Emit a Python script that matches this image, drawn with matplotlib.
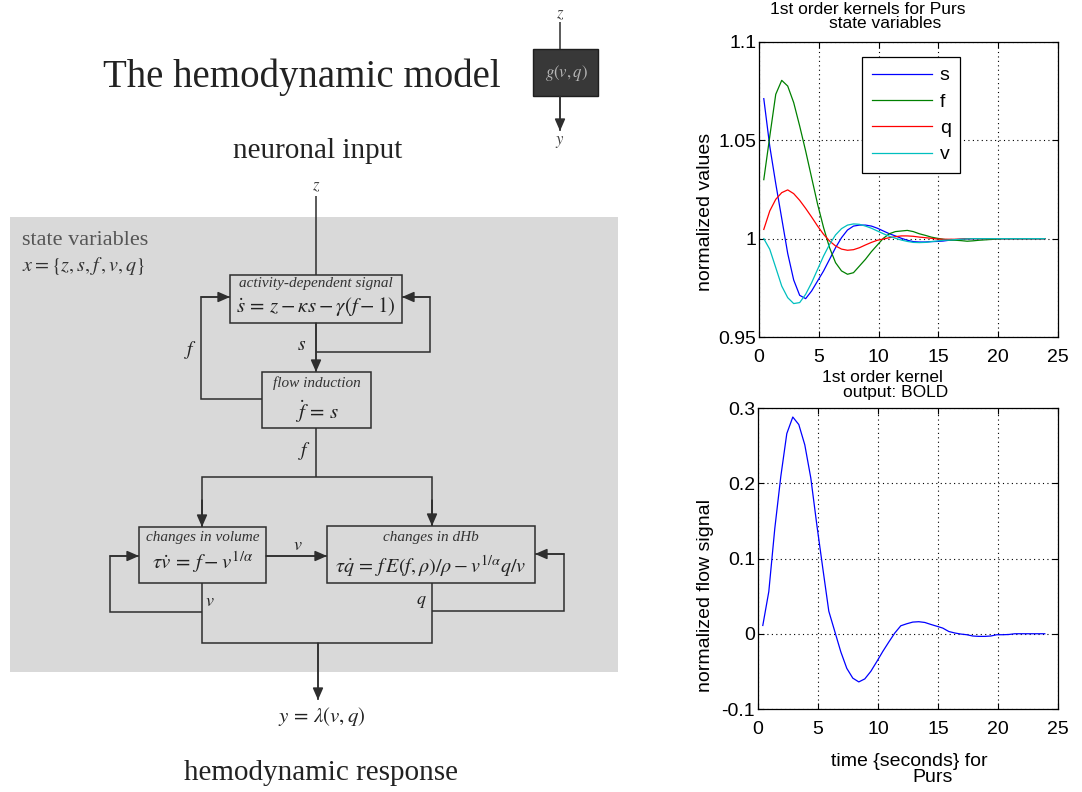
import numpy as np
import matplotlib
matplotlib.use("Agg")
from matplotlib import pyplot as plt
from matplotlib.patches import Rectangle
from matplotlib.ticker import FormatStrFormatter

plt.rcParams["font.family"] = "Liberation Sans"
plt.rcParams["mathtext.fontset"] = "stix"
plt.rcParams["axes.unicode_minus"] = False

# sample times (seconds) of the kernels
TIME = np.arange(0.4, 24.1, 0.5)

# 1st order kernels of the state variables (normalized)
KERNEL_S = [1.0712, 1.047, 1.028, 1.0103, 0.9925, 0.9790, 0.9712, 0.9695, 0.9734, 0.9785,
            0.9836, 0.9895, 0.9954, 1.0005, 1.0044, 1.0064, 1.0069, 1.0069, 1.0064, 1.0053,
            1.0039, 1.0025, 1.0014, 1.0002, 0.9992, 0.9985, 0.9983, 0.9983, 0.9985, 0.9986,
            0.9988, 0.9992, 0.9995, 0.9997, 0.9999, 1.0, 1.0, 1.0, 1.0, 1.0,
            1.0, 1.0, 1.0, 1.0, 1.0, 1.0, 1.0, 1.0]
KERNEL_F = [1.030, 1.052, 1.0734, 1.0805, 1.0776, 1.0692, 1.0573, 1.0446, 1.031, 1.0175,
            1.0056, 0.9954, 0.9878, 0.9836, 0.9819, 0.9827, 0.9861, 0.9895, 0.9934, 0.9968,
            1.0002, 1.0025, 1.0036, 1.0039, 1.0042, 1.0036, 1.0025, 1.0017, 1.0008, 1.0002,
            0.9997, 0.9993, 0.9992, 0.9990, 0.9987, 0.9989, 0.9992, 0.9994, 0.9996, 0.9998,
            1.0, 1.0, 1.0, 1.0, 1.0, 1.0, 1.0, 1.0]
KERNEL_Q = [1.0047, 1.0141, 1.0200, 1.0234, 1.0248, 1.0229, 1.0195, 1.0154, 1.0110, 1.0064,
            1.0022, 0.9988, 0.9963, 0.9947, 0.9941, 0.9944, 0.9954, 0.9968, 0.9981, 0.9992,
            0.9998, 1.0005, 1.0010, 1.0014, 1.0014, 1.0012, 1.0008, 1.0005, 1.0002, 0.9998,
            0.9997, 0.9997, 0.9997, 0.9998, 1.0, 1.0, 1.0, 1.0, 1.0, 1.0,
            1.0, 1.0, 1.0, 1.0, 1.0, 1.0, 1.0, 1.0]
KERNEL_V = [1.0000, 0.9946, 0.9853, 0.9759, 0.9700, 0.9670, 0.9675, 0.9717, 0.9776, 0.9844,
            0.9912, 0.9971, 1.0019, 1.0051, 1.0069, 1.0075, 1.0073, 1.0064, 1.0053, 1.0039,
            1.0025, 1.0012, 1.0002, 0.9993, 0.9986, 0.9981, 0.9980, 0.9981, 0.9985, 0.9988,
            0.9992, 0.9993, 0.9995, 0.9997, 0.9999, 1.0, 1.0, 1.0, 1.0, 1.0,
            1.0, 1.0, 1.0, 1.0, 1.0, 1.0, 1.0, 1.0]
STATE_LABELS = ["s", "f", "q", "v"]
STATE_COLORS = ["#0000ff", "#008000", "#ff0000", "#00bfbf"]

# 1st order kernel of the BOLD output
KERNEL_BOLD = [0.011, 0.056, 0.140, 0.209, 0.266, 0.288, 0.278, 0.251, 0.207, 0.145,
               0.087, 0.030, 0.003, -0.024, -0.046, -0.059, -0.064, -0.060, -0.050, -0.037,
               -0.0235, -0.011, 0.001, 0.0106, 0.0133, 0.0155, 0.016, 0.015, 0.0124, 0.010,
               0.0075, 0.003, 0.001, -0.0004, -0.0013, -0.003, -0.0035, -0.0035, -0.003, -0.0013,
               -0.0013, -0.001, 0.0, 0.0, 0.0, 0.0, 0.0, 0.0]

W, H = 1082, 792
LINE = "#2e2e2e"
SERIF = "Liberation Serif"


def path(ax, pts, arrow=False):
    """Draws a connector through pts, with an arrow head at the last point."""
    xs, ys = zip(*pts)
    ax.plot(xs, ys, color=LINE, lw=1.1, solid_joinstyle="miter",
            solid_capstyle="butt")
    if arrow:
        ax.annotate("", xy=pts[-1], xytext=pts[-2],
                    arrowprops=dict(arrowstyle="-|>,head_length=0.8,head_width=0.35",
                                    color=LINE, lw=1.1, shrinkA=0, shrinkB=0,
                                    mutation_scale=9))


def block(ax, x0, y0, x1, y1, header, equation, hy, ey, eqsize=15):
    ax.add_patch(Rectangle((x0, y0), x1 - x0, y1 - y0, fc="none", ec=LINE, lw=1.1))
    cx = (x0 + x1) / 2
    ax.text(cx, hy, header, family=SERIF, style="italic", size=11, color="#333333",
            ha="center", va="center")
    ax.text(cx, ey, equation, size=eqsize, color="#222222", ha="center", va="center")


def draw_diagram(ax):
    ax.text(302, 87, "The hemodynamic model", family=SERIF, size=28,
            color="#222222", ha="center", va="baseline")
    # small output block
    ax.add_patch(Rectangle((533, 49), 65, 47, fc="#383838", ec="#1e1e1e", lw=1))
    ax.text(566, 73, r"$g(v,q)$", size=12, color="#b5b5b5", ha="center", va="center")
    ax.text(560, 14, r"$z$", size=12, color="#444444", ha="center", va="center")
    path(ax, [(560, 22), (560, 49)])
    path(ax, [(560, 96), (560, 131)], arrow=True)
    ax.text(560, 142, r"$y$", size=12, color="#444444", ha="center", va="center")

    ax.text(318, 158, "neuronal input", family=SERIF, size=21, color="#222222",
            ha="center", va="baseline")
    ax.text(316, 187, r"$z$", size=12, color="#444444", ha="center", va="center")

    ax.add_patch(Rectangle((10, 217), 608, 455, fc="#d9d9d9", ec="none"))
    ax.text(22, 245, "state variables", family=SERIF, size=16, color="#555555",
            ha="left", va="baseline")
    ax.text(22, 266, r"$x = \{z,s,f\,,v,q\}$", size=14.5, color="#333333",
            ha="left", va="center")

    path(ax, [(316, 196), (316, 275)])
    block(ax, 230, 275, 402, 323, "activity-dependent signal",
          r"$\dot{s}\,=\,z - \kappa s - \gamma(f - 1)$", 283, 306, eqsize=15)
    path(ax, [(316, 323), (316, 372)], arrow=True)
    ax.text(302, 345, r"$s$", size=14, color="#222222", ha="center", va="center")
    path(ax, [(316, 352), (430, 352), (430, 297), (402, 297)], arrow=True)

    block(ax, 262, 372, 371, 428, "flow induction", r"$\dot{f}\,=\,s$", 383, 412)
    path(ax, [(262, 399), (201, 399), (201, 297), (230, 297)], arrow=True)
    ax.text(191, 350, r"$f$", size=14, color="#222222", ha="center", va="center")

    path(ax, [(316, 428), (316, 477)])
    ax.text(305, 451, r"$f$", size=14, color="#222222", ha="center", va="center")
    path(ax, [(202, 527), (202, 477), (432, 477), (432, 526)])
    path(ax, [(202, 500), (202, 527)], arrow=True)
    path(ax, [(432, 500), (432, 526)], arrow=True)

    block(ax, 139, 527, 266, 583, "changes in volume",
          r"$\tau\dot{v}\,=\,f - v^{1/\alpha}$", 538, 562)
    block(ax, 327, 526, 535, 583, "changes in dHb",
          r"$\tau\dot{q}\,=\,f\,E(f,\rho)/\rho - v^{1/\alpha}q/v$", 538, 566, eqsize=14.5)
    path(ax, [(266, 556), (327, 556)], arrow=True)
    ax.text(298, 546, r"$v$", size=13, color="#222222", ha="center", va="center")

    path(ax, [(202, 583), (202, 643), (432, 643), (432, 583)])
    path(ax, [(202, 612), (110, 612), (110, 556), (139, 556)], arrow=True)
    ax.text(210, 601, r"$v$", size=13, color="#222222", ha="center", va="center")
    path(ax, [(432, 611), (564, 611), (564, 554), (535, 554)], arrow=True)
    ax.text(421, 601, r"$q$", size=13, color="#222222", ha="center", va="center")

    path(ax, [(318, 643), (318, 700)], arrow=True)
    ax.text(322, 717, r"$y\,=\,\lambda(v,q)$", size=15, color="#222222",
            ha="center", va="center")
    ax.text(321, 780, "hemodynamic response", family=SERIF, size=21,
            color="#222222", ha="center", va="baseline")


def style_axes(ax):
    ax.set_xlim(0, 25)
    ax.set_xticks([0, 5, 10, 15, 20, 25])
    ax.tick_params(direction="in", length=4, top=True, right=True, labelsize=14,
                   width=0.8)
    ax.tick_params(axis="x", pad=9)
    ax.tick_params(axis="y", pad=2)
    ax.grid(True, color="k", linestyle=(0, (1, 3)), linewidth=0.8)
    ax.yaxis.set_major_formatter(FormatStrFormatter("%g"))
    for spine in ax.spines.values():
        spine.set_linewidth(0.9)


def main():
    fig = plt.figure(figsize=(W / 100, H / 100), dpi=100)
    canvas = fig.add_axes([0, 0, 1, 1])
    canvas.set_xlim(0, W)
    canvas.set_ylim(H, 0)
    canvas.axis("off")
    draw_diagram(canvas)

    # titles and labels placed like the MATLAB output
    canvas.text(868, 10, "1st order kernels for Purs", size=12.5, ha="center", va="center")
    canvas.text(885, 23, "state variables", size=12.5, ha="center", va="center")
    canvas.text(705, 212, "normalized values", size=14, rotation=90,
                ha="center", va="center")
    canvas.text(882, 378, "1st order kernel", size=12.5, ha="center", va="center")
    canvas.text(896, 393, "output: BOLD", size=12.5, ha="center", va="center")
    canvas.text(705, 595, "normalized flow signal", size=14, rotation=90,
                ha="center", va="center")
    canvas.text(909, 762, "time {seconds} for", size=14, ha="center", va="center")
    canvas.text(933, 778, "Purs", size=14, ha="center", va="center")

    ax1 = fig.add_axes([759 / W, 1 - 337 / H, 299 / W, 295 / H])
    for values, label, color in zip([KERNEL_S, KERNEL_F, KERNEL_Q, KERNEL_V],
                                    STATE_LABELS, STATE_COLORS):
        ax1.plot(TIME, values, color=color, lw=0.9, label=label)
    style_axes(ax1)
    ax1.set_ylim(0.95, 1.1)
    ax1.set_yticks([0.95, 1.0, 1.05, 1.1])
    leg = ax1.legend(loc="upper left", bbox_to_anchor=(0.344, 0.949), borderaxespad=0,
                     fontsize=14, handlelength=3.1, handletextpad=0.4,
                     labelspacing=0.45, borderpad=0.5, fancybox=False,
                     edgecolor="k", framealpha=1)
    leg.get_frame().set_linewidth(0.9)

    ax2 = fig.add_axes([758 / W, 1 - 709 / H, 300 / W, 301 / H])
    ax2.plot(TIME, KERNEL_BOLD, color="#0000ff", lw=0.9)
    style_axes(ax2)
    ax2.set_ylim(-0.1, 0.3)
    ax2.set_yticks([-0.1, 0, 0.1, 0.2, 0.3])

    fig.savefig("out.png", dpi=100)


if __name__ == "__main__":
    main()
